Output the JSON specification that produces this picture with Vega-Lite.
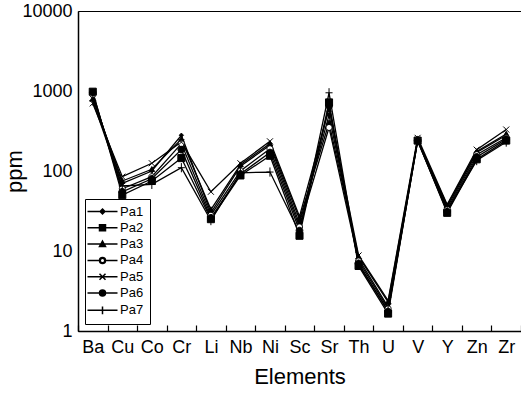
{
  "$schema": "https://vega.github.io/schema/vega-lite/v6.json",
  "autosize": "none",
  "width": 443,
  "height": 320,
  "padding": {"left": 78, "top": 11, "right": 0, "bottom": 63},
  "background": "white",
  "config": {
    "view": {"stroke": "black", "strokeWidth": 1},
    "font": "Liberation Sans"
  },
  "data": {
    "values": [
      {"el":"Ba","s":"Pa1","v":850},{"el":"Cu","s":"Pa1","v":70},{"el":"Co","s":"Pa1","v":100},{"el":"Cr","s":"Pa1","v":280},{"el":"Li","s":"Pa1","v":30},{"el":"Nb","s":"Pa1","v":115},{"el":"Ni","s":"Pa1","v":210},{"el":"Sc","s":"Pa1","v":22},{"el":"Sr","s":"Pa1","v":500},{"el":"Th","s":"Pa1","v":8.0},{"el":"U","s":"Pa1","v":2.0},{"el":"V","s":"Pa1","v":250},{"el":"Y","s":"Pa1","v":35},{"el":"Zn","s":"Pa1","v":170},{"el":"Zr","s":"Pa1","v":280},
      {"el":"Ba","s":"Pa2","v":980},{"el":"Cu","s":"Pa2","v":50},{"el":"Co","s":"Pa2","v":75},{"el":"Cr","s":"Pa2","v":145},{"el":"Li","s":"Pa2","v":25},{"el":"Nb","s":"Pa2","v":88},{"el":"Ni","s":"Pa2","v":155},{"el":"Sc","s":"Pa2","v":15.5},{"el":"Sr","s":"Pa2","v":720},{"el":"Th","s":"Pa2","v":6.5},{"el":"U","s":"Pa2","v":1.65},{"el":"V","s":"Pa2","v":240},{"el":"Y","s":"Pa2","v":30},{"el":"Zn","s":"Pa2","v":140},{"el":"Zr","s":"Pa2","v":240},
      {"el":"Ba","s":"Pa3","v":800},{"el":"Cu","s":"Pa3","v":75},{"el":"Co","s":"Pa3","v":105},{"el":"Cr","s":"Pa3","v":250},{"el":"Li","s":"Pa3","v":33},{"el":"Nb","s":"Pa3","v":120},{"el":"Ni","s":"Pa3","v":220},{"el":"Sc","s":"Pa3","v":25},{"el":"Sr","s":"Pa3","v":400},{"el":"Th","s":"Pa3","v":8.5},{"el":"U","s":"Pa3","v":2.3},{"el":"V","s":"Pa3","v":245},{"el":"Y","s":"Pa3","v":37},{"el":"Zn","s":"Pa3","v":175},{"el":"Zr","s":"Pa3","v":290},
      {"el":"Ba","s":"Pa4","v":900},{"el":"Cu","s":"Pa4","v":60},{"el":"Co","s":"Pa4","v":85},{"el":"Cr","s":"Pa4","v":220},{"el":"Li","s":"Pa4","v":28},{"el":"Nb","s":"Pa4","v":100},{"el":"Ni","s":"Pa4","v":190},{"el":"Sc","s":"Pa4","v":20},{"el":"Sr","s":"Pa4","v":350},{"el":"Th","s":"Pa4","v":7.5},{"el":"U","s":"Pa4","v":1.9},{"el":"V","s":"Pa4","v":245},{"el":"Y","s":"Pa4","v":33},{"el":"Zn","s":"Pa4","v":160},{"el":"Zr","s":"Pa4","v":260},
      {"el":"Ba","s":"Pa5","v":700},{"el":"Cu","s":"Pa5","v":85},{"el":"Co","s":"Pa5","v":125},{"el":"Cr","s":"Pa5","v":230},{"el":"Li","s":"Pa5","v":55},{"el":"Nb","s":"Pa5","v":125},{"el":"Ni","s":"Pa5","v":235},{"el":"Sc","s":"Pa5","v":27},{"el":"Sr","s":"Pa5","v":600},{"el":"Th","s":"Pa5","v":8.8},{"el":"U","s":"Pa5","v":2.4},{"el":"V","s":"Pa5","v":260},{"el":"Y","s":"Pa5","v":38},{"el":"Zn","s":"Pa5","v":185},{"el":"Zr","s":"Pa5","v":330},
      {"el":"Ba","s":"Pa6","v":950},{"el":"Cu","s":"Pa6","v":55},{"el":"Co","s":"Pa6","v":80},{"el":"Cr","s":"Pa6","v":185},{"el":"Li","s":"Pa6","v":26},{"el":"Nb","s":"Pa6","v":92},{"el":"Ni","s":"Pa6","v":170},{"el":"Sc","s":"Pa6","v":18},{"el":"Sr","s":"Pa6","v":650},{"el":"Th","s":"Pa6","v":7.0},{"el":"U","s":"Pa6","v":1.75},{"el":"V","s":"Pa6","v":240},{"el":"Y","s":"Pa6","v":31},{"el":"Zn","s":"Pa6","v":150},{"el":"Zr","s":"Pa6","v":250},
      {"el":"Ba","s":"Pa7","v":750},{"el":"Cu","s":"Pa7","v":65},{"el":"Co","s":"Pa7","v":68},{"el":"Cr","s":"Pa7","v":110},{"el":"Li","s":"Pa7","v":24},{"el":"Nb","s":"Pa7","v":95},{"el":"Ni","s":"Pa7","v":97},{"el":"Sc","s":"Pa7","v":17},{"el":"Sr","s":"Pa7","v":950},{"el":"Th","s":"Pa7","v":6.8},{"el":"U","s":"Pa7","v":1.8},{"el":"V","s":"Pa7","v":235},{"el":"Y","s":"Pa7","v":32},{"el":"Zn","s":"Pa7","v":135},{"el":"Zr","s":"Pa7","v":230}
    ]
  },
  "encoding": {
    "x": {
      "field": "el", "type": "nominal",
      "scale": {"domain": ["Ba","Cu","Co","Cr","Li","Nb","Ni","Sc","Sr","Th","U","V","Y","Zn","Zr"], "paddingInner": 0, "paddingOuter": 0},
      "axis": {
        "title": "Elements", "titleFontSize": 22, "titleFontWeight": "normal", "titleColor": "black", "titlePadding": 10,
        "labelAngle": 0, "labelFontSize": 18, "labelColor": "black", "labelPadding": 13,
        "tickBand": "extent", "tickSize": -6, "tickColor": "black", "tickWidth": 1.2,
        "domainColor": "black", "domainWidth": 1.5, "grid": false
      }
    },
    "y": {
      "field": "v", "type": "quantitative",
      "scale": {"type": "log", "domain": [1, 10000], "nice": false},
      "axis": {
        "title": "ppm", "titleFontSize": 22, "titleFontWeight": "normal", "titleColor": "black",
        "titleX": -52, "titleY": 160,
        "values": [1, 10, 100, 1000, 10000], "format": "d",
        "labelFontSize": 18, "labelColor": "black", "labelPadding": 6,
        "ticks": false, "domainColor": "black", "domainWidth": 1.5, "grid": false
      }
    }
  },
  "resolve": {"scale": {"shape": "independent"}},
  "layer": [
    {
      "mark": {"type": "line", "color": "black", "strokeWidth": 1.3},
      "encoding": {"detail": {"field": "s", "type": "nominal"}}
    },
    {
      "mark": {"type": "point", "filled": true, "stroke": "black", "strokeWidth": 1, "opacity": 1},
      "encoding": {
        "shape": {
          "field": "s", "type": "nominal",
          "scale": {
            "domain": ["Pa1","Pa2","Pa3","Pa4","Pa5","Pa6","Pa7"],
            "range": [
              "M0,-1L1,0L0,1L-1,0Z",
              "M-1,-1L1,-1L1,1L-1,1Z",
              "M0,-1L1,0.8L-1,0.8Z",
              "M1,0A1,1 0 1,1 -1,0A1,1 0 1,1 1,0Z",
              "M-1,-1L1,1M-1,1L1,-1",
              "M1,0A1,1 0 1,1 -1,0A1,1 0 1,1 1,0Z",
              "M-1,0L1,0M0,-1.3L0,1.3"
            ]
          },
          "legend": null
        },
        "fill": {
          "condition": {"test": "datum.s === 'Pa4'", "value": "white"},
          "value": "black"
        },
        "size": {
          "condition": [
            {"test": "datum.s === 'Pa1'", "value": 18},
            {"test": "datum.s === 'Pa2' || datum.s === 'Pa7'", "value": 50},
            {"test": "datum.s === 'Pa3'", "value": 30},
            {"test": "datum.s === 'Pa6'", "value": 45}
          ],
          "value": 36
        }
      }
    },
    {
      "transform": [{"filter": "false"}],
      "mark": {"type": "point", "filled": true, "color": "black", "stroke": "black", "strokeWidth": 1, "opacity": 1},
      "encoding": {
        "shape": {
          "field": "s", "type": "nominal",
          "scale": {
            "domain": ["Pa1","Pa2","Pa3","Pa4","Pa5","Pa6","Pa7"],
            "range": [
              "M-5,0L5,0M0,-0.8L0.8,0L0,0.8L-0.8,0Z",
              "M-5,0L5,0M-1,-1L1,-1L1,1L-1,1Z",
              "M-5,0L5,0M0,-1L1,0.8L-1,0.8Z",
              "M-5,0L-1,0M1,0L5,0M1,0A1,1 0 1,1 -1,0A1,1 0 1,1 1,0ZM0.75,0A0.75,0.75 0 1,0 -0.75,0A0.75,0.75 0 1,0 0.75,0Z",
              "M-5,0L5,0M-1,-1L1,1M-1,1L1,-1",
              "M-5,0L5,0M1,0A1,1 0 1,1 -1,0A1,1 0 1,1 1,0Z",
              "M-5,0L5,0M0,-1.3L0,1.3"
            ]
          },
          "legend": {
            "title": null,
            "orient": "bottom-left",
            "offset": 7,
            "strokeColor": "black",
            "fillColor": "white",
            "padding": 6,
            "labelFontSize": 13,
            "labelColor": "black",
            "symbolSize": 36,
            "symbolOffset": 5,
            "labelOffset": 11,
            "rowPadding": 2.3,
            "columnPadding": 0
          }
        }
      }
    }
  ]
}
